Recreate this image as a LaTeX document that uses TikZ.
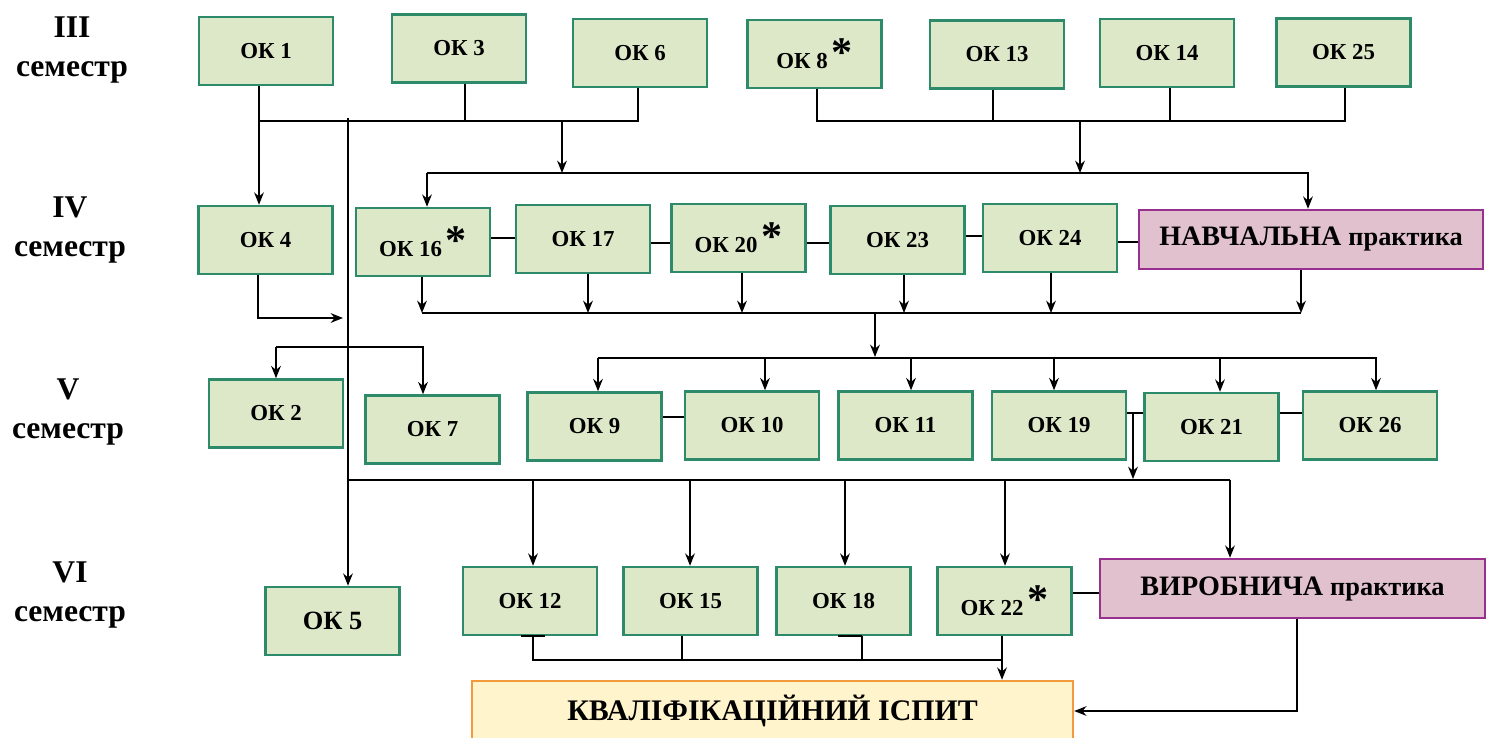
\documentclass[tikz,border=0pt]{standalone}
\usepackage{fontspec}
\setmainfont{Liberation Serif}
\usepackage{xcolor}
\usetikzlibrary{arrows.meta}
\definecolor{okfill}{HTML}{DDE8C9}
\definecolor{okline}{HTML}{2E8B6A}
\definecolor{prfill}{HTML}{E1C1CD}
\definecolor{prline}{HTML}{98308F}
\definecolor{exfill}{HTML}{FFF4CC}
\definecolor{exline}{HTML}{F39A3C}
\tikzset{
    >={Stealth[length=7pt,width=5.5pt]}, % arrow heads
    ok/.style={draw=okline, fill=okfill, line width=1.4pt, minimum width=2.68cm, minimum height=1.36cm, inner sep=1pt, font=\fontsize{13}{15}\selectfont\bfseries},
    prak/.style={draw=prline, fill=prfill, line width=1.4pt, minimum height=1.18cm, font=\fontsize{16}{18}\selectfont\bfseries},
    exam/.style={draw=exline, fill=exfill, line width=1.4pt, minimum width=12.02cm, minimum height=1.2cm, font=\fontsize{17}{19}\selectfont\bfseries},
    sem/.style={align=center, font=\fontsize{18}{22}\selectfont\bfseries},
    link/.style={line width=1.1pt},
}
\newcommand{\zirka}{\,{\fontsize{24}{24}\selectfont\raisebox{0.1ex}{*}}}

\begin{document}
\begin{tikzpicture}[x=0.02cm,y=-0.02cm]
    \useasboundingbox (0,0) rectangle (1487,737);

    % semesters
    \node[sem] (s3) at (72,50) {III\\семестр};
    \node[sem] (s4) at (70,230) {IV\\семестр};
    \node[sem] (s5) at (68,412) {V\\семестр};
    \node[sem] (s6) at (70,595) {VI\\семестр};

    % III semester
    \node[ok] (ok1) at (266,51) {ОК 1};
    \node[ok] (ok3) at (459,48.5) {ОК 3};
    \node[ok] (ok6) at (640,53) {ОК 6};
    \node[ok] (ok8) at (814.5,54) {ОК 8\zirka};
    \node[ok] (ok13) at (997,54.5) {ОК 13};
    \node[ok] (ok14) at (1167,53) {ОК 14};
    \node[ok] (ok25) at (1343.5,52.5) {ОК 25};

    % IV semester
    \node[ok] (ok4) at (265.5,240) {ОК 4};
    \node[ok] (ok16) at (423,242) {ОК 16\zirka};
    \node[ok] (ok17) at (583,239) {ОК 17};
    \node[ok] (ok20) at (738.5,238) {ОК 20\zirka};
    \node[ok] (ok23) at (897.5,240) {ОК 23};
    \node[ok] (ok24) at (1050,238) {ОК 24};
    \node[prak, minimum width=6.88cm] (nav) at (1311,239.5) {НАВЧАЛЬНА {\fontsize{15}{17}\selectfont практика}};

    % V semester
    \node[ok] (ok2) at (276,413.5) {ОК 2};
    \node[ok] (ok7) at (432.5,429.5) {ОК 7};
    \node[ok] (ok9) at (594.5,426.5) {ОК 9};
    \node[ok] (ok10) at (752,425.5) {ОК 10};
    \node[ok] (ok11) at (905.5,425.5) {ОК 11};
    \node[ok] (ok19) at (1059,425.5) {ОК 19};
    \node[ok] (ok21) at (1211.5,427) {ОК 21};
    \node[ok] (ok26) at (1370,425.5) {ОК 26};

    % VI semester
    \node[ok, font=\fontsize{15}{17}\selectfont\bfseries] (ok5) at (332.5,621) {ОК 5};
    \node[ok] (ok12) at (530,601) {ОК 12};
    \node[ok] (ok15) at (690.5,601) {ОК 15};
    \node[ok] (ok18) at (843.5,601) {ОК 18};
    \node[ok] (ok22) at (1004.5,601) {ОК 22\zirka};
    \node[prak, minimum width=7.7cm] (vyr) at (1292.5,588.5) {ВИРОБНИЧА {\fontsize{15}{17}\selectfont практика}};

    \node[exam] (kisp) at (772.5,711) {КВАЛІФІКАЦІЙНИЙ ІСПИТ};

    % III -> IV
    \draw[link] (259,0 |- ok1.south) |- (638,121) -- (638,0 |- ok6.south);
    \draw[link] (465,0 |- ok3.south) -- (465,121);
    \draw[link,->] (259,121) -- (259,0 |- ok4.north);
    \draw[link,->] (562,121) -- (562,173);
    \draw[link] (817,0 |- ok8.south) |- (1345,121) -- (1345,0 |- ok25.south);
    \draw[link] (993,0 |- ok13.south) -- (993,121);
    \draw[link] (1170,0 |- ok14.south) -- (1170,121);
    \draw[link,->] (1080,121) -- (1080,173);
    \draw[link,->] (427,173) -- (427,0 |- ok16.north);
    \draw[link,->] (427,173) -| (1308,0 |- nav.north);
    \draw[link,->] (348,118) -- (348,0 |- ok5.north);

    % IV chain
    \draw[link] (ok16.east |- 0,238) -- (ok17.west |- 0,238);
    \draw[link] (ok17.east |- 0,243) -- (ok20.west |- 0,243);
    \draw[link] (ok20.east |- 0,243) -- (ok23.west |- 0,243);
    \draw[link] (ok23.east |- 0,236) -- (ok24.west |- 0,236);
    \draw[link] (ok24.east |- 0,242) -- (nav.west |- 0,242);
    \draw[link,->] (258,0 |- ok4.south) |- (343,318);

    % IV -> V
    \draw[link,->] (422,0 |- ok16.south) -- (422,313);
    \draw[link,->] (588,0 |- ok17.south) -- (588,313);
    \draw[link,->] (742,0 |- ok20.south) -- (742,313);
    \draw[link,->] (904,0 |- ok23.south) -- (904,313);
    \draw[link,->] (1051,0 |- ok24.south) -- (1051,313);
    \draw[link,->] (1301,0 |- nav.south) -- (1301,313);
    \draw[link] (422,313) -- (1301,313);
    \draw[link,->] (875,313) -- (875,357);
    \draw[link,->] (598,358) -- (598,0 |- ok9.north);
    \draw[link,->] (765,358) -- (765,0 |- ok10.north);
    \draw[link,->] (911,358) -- (911,0 |- ok11.north);
    \draw[link,->] (1054,358) -- (1054,0 |- ok19.north);
    \draw[link,->] (1220,358) -- (1220,0 |- ok21.north);
    \draw[link,->] (598,358) -| (1376,0 |- ok26.north);
    \draw[link,->] (276,347) -- (276,0 |- ok2.north);
    \draw[link,->] (276,347) -| (423,0 |- ok7.north);

    % V chain
    \draw[link] (ok9.east |- 0,417) -- (ok10.west |- 0,417);
    \draw[link] (ok19.east |- 0,413) -- (ok21.west |- 0,413);
    \draw[link] (ok21.east |- 0,413) -- (ok26.west |- 0,413);
    \draw[link,->] (1133,413) -- (1133,479);

    % V -> VI
    \draw[link] (348,480) -- (1230,480);
    \draw[link,->] (533,480) -- (533,0 |- ok12.north);
    \draw[link,->] (690,480) -- (690,0 |- ok15.north);
    \draw[link,->] (845,480) -- (845,0 |- ok18.north);
    \draw[link,->] (1005,480) -- (1005,0 |- ok22.north);
    \draw[link,->] (1230,480) -- (1230,0 |- vyr.north);
    \draw[link] (ok22.east |- 0,593) -- (vyr.west |- 0,593);

    % VI -> exam
    \draw[link] (521,0 |- ok12.south) -- (545,0 |- ok12.south);
    \draw[link] (838,0 |- ok18.south) -- (862,0 |- ok18.south);
    \draw[link] (533,0 |- ok12.south) |- (1002,660);
    \draw[link] (682,0 |- ok15.south) -- (682,660);
    \draw[link] (862,0 |- ok18.south) -- (862,660);
    \draw[link,->] (1002,0 |- ok22.south) -- (1002,0 |- kisp.north);
    \draw[link,->] (1297,0 |- vyr.south) |- (kisp.east);
\end{tikzpicture}
\end{document}
